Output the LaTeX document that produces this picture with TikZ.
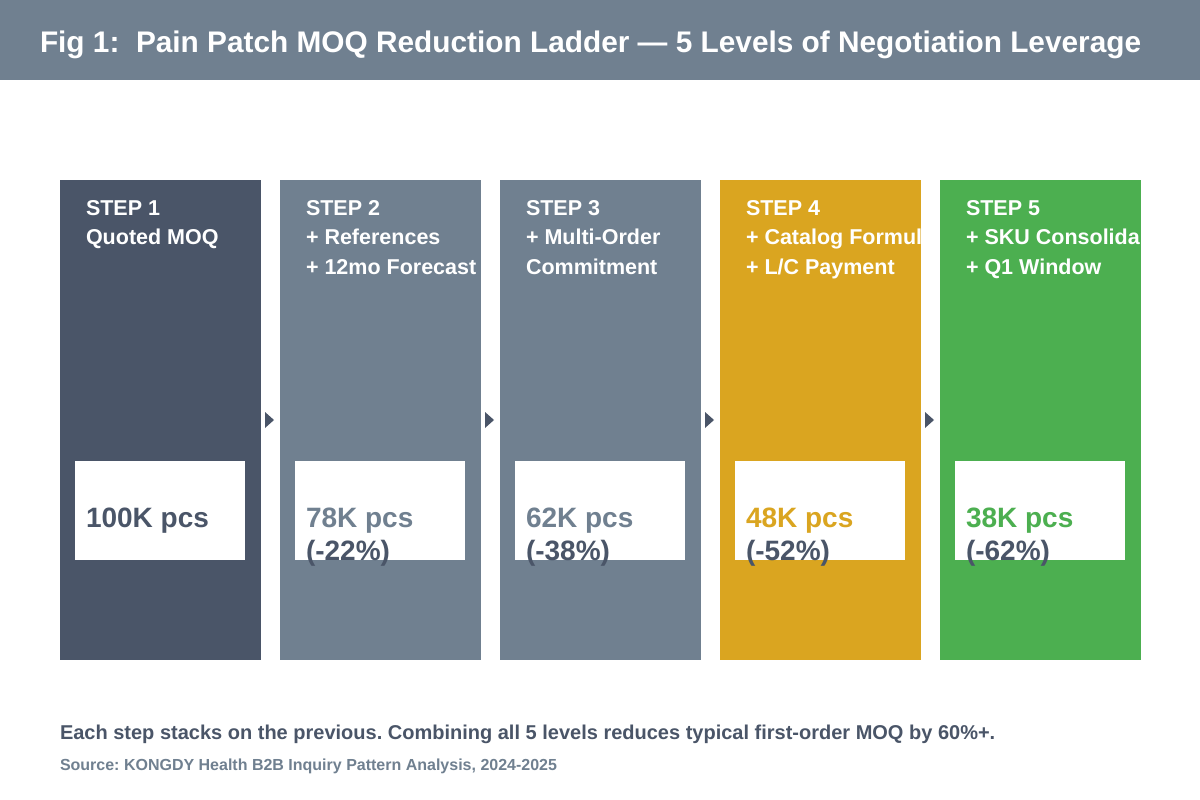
\documentclass[tikz,border=0pt]{standalone}
\usepackage{fontspec}
\setmainfont{Liberation Sans}
\usetikzlibrary{calc}
\frenchspacing
\definecolor{slate}{HTML}{708090}
\definecolor{ink}{HTML}{4A5568}
\definecolor{gold}{HTML}{DAA520}
\definecolor{leaf}{HTML}{4CAF50}
\tikzset{
  every node/.style = {inner sep=0pt, outer sep=0pt}
}
\tikzset{
  column/.style = {minimum width=201pt, minimum height=480pt, anchor=north west},
  valbox/.style = {fill=white, minimum width=170pt, minimum height=99pt, anchor=north west},
  steptext/.style = {anchor=base west, text=white, font=\fontsize{21.5}{25}\bfseries},
  valtext/.style = {anchor=base west, font=\fontsize{28}{33}\bfseries}
}

\begin{document}
\begin{tikzpicture}[x=1pt,y=-1pt]
\useasboundingbox (0,0) rectangle (1200,800);
\fill[white] (0,0) rectangle (1200,800);

% Header band
\fill[slate] (0,0) rectangle (1200,80);
\node[anchor=base west, text=white, font=\fontsize{29.8}{36}\bfseries] (title) at (40,53)
  {Fig 1:\ \ Pain Patch MOQ Reduction Ladder — 5 Levels of Negotiation Leverage};

% The five steps
\node[column, fill=ink]   (c1) at (60,180) {};
\node[column, fill=slate] (c2) at (280,180) {};
\node[column, fill=slate] (c3) at (500,180) {};
\node[column, fill=gold]  (c4) at (720,180) {};
\node[column, fill=leaf]  (c5) at (940,180) {};

% Step labels (cut off at the column edge)
\begin{scope}
\clip (c1.north west) rectangle (c1.south east);
\node[steptext] (s1a) at ($(c1.north west)+(26,35)$) {STEP 1};
\node[steptext] (s1b) at ($(c1.north west)+(26,64)$) {Quoted MOQ};
\end{scope}
\begin{scope}
\clip (c2.north west) rectangle (c2.south east);
\node[steptext] (s2a) at ($(c2.north west)+(26,35)$) {STEP 2};
\node[steptext] (s2b) at ($(c2.north west)+(26,64)$) {+ References};
\node[steptext] (s2c) at ($(c2.north west)+(26,94)$) {+ 12mo Forecast};
\end{scope}
\begin{scope}
\clip (c3.north west) rectangle (c3.south east);
\node[steptext] (s3a) at ($(c3.north west)+(26,35)$) {STEP 3};
\node[steptext] (s3b) at ($(c3.north west)+(26,64)$) {+ Multi-Order};
\node[steptext] (s3c) at ($(c3.north west)+(26,94)$) {Commitment};
\end{scope}
\begin{scope}
\clip (c4.north west) rectangle (c4.south east);
\node[steptext] (s4a) at ($(c4.north west)+(26,35)$) {STEP 4};
\node[steptext] (s4b) at ($(c4.north west)+(26,64)$) {+ Catalog Formul};
\node[steptext] (s4c) at ($(c4.north west)+(26,94)$) {+ L/C Payment};
\end{scope}
\begin{scope}
\clip (c5.north west) rectangle (c5.south east);
\node[steptext] (s5a) at ($(c5.north west)+(26,35)$) {STEP 5};
\node[steptext] (s5b) at ($(c5.north west)+(26,64)$) {+ SKU Consolida};
\node[steptext] (s5c) at ($(c5.north west)+(26,94)$) {+ Q1 Window};
\end{scope}

% Value boxes
\node[valbox] (b1) at ($(c1.north west)+(15,281)$) {};
\node[valbox] (b2) at ($(c2.north west)+(15,281)$) {};
\node[valbox] (b3) at ($(c3.north west)+(15,281)$) {};
\node[valbox] (b4) at ($(c4.north west)+(15,281)$) {};
\node[valbox] (b5) at ($(c5.north west)+(15,281)$) {};

\node[valtext, text=ink]   (v1) at ($(b1.north west)+(11,66)$) {100K pcs};
\node[valtext, text=slate] (v2) at ($(b2.north west)+(11,66)$) {78K pcs};
\node[valtext, text=ink]   (p2) at ($(b2.north west)+(11,99)$) {(-22\%)};
\node[valtext, text=slate] (v3) at ($(b3.north west)+(11,66)$) {62K pcs};
\node[valtext, text=ink]   (p3) at ($(b3.north west)+(11,99)$) {(-38\%)};
\node[valtext, text=gold]  (v4) at ($(b4.north west)+(11,66)$) {48K pcs};
\node[valtext, text=ink]   (p4) at ($(b4.north west)+(11,99)$) {(-52\%)};
\node[valtext, text=leaf]  (v5) at ($(b5.north west)+(11,66)$) {38K pcs};
\node[valtext, text=ink]   (p5) at ($(b5.north west)+(11,99)$) {(-62\%)};

% Small arrows between the steps
\fill[ink] ($(c1.east)+(4,-8)$) -- ($(c1.east)+(13,0)$) -- ($(c1.east)+(4,8)$) -- cycle;
\fill[ink] ($(c2.east)+(4,-8)$) -- ($(c2.east)+(13,0)$) -- ($(c2.east)+(4,8)$) -- cycle;
\fill[ink] ($(c3.east)+(4,-8)$) -- ($(c3.east)+(13,0)$) -- ($(c3.east)+(4,8)$) -- cycle;
\fill[ink] ($(c4.east)+(4,-8)$) -- ($(c4.east)+(13,0)$) -- ($(c4.east)+(4,8)$) -- cycle;

% Footer
\node[anchor=base west, text=ink, font=\fontsize{20}{24}\bfseries] (note) at (60,739)
  {Each step stacks on the previous. Combining all 5 levels reduces typical first-order MOQ by 60\%+.};
\node[anchor=base west, text=slate, font=\fontsize{16}{19}\bfseries] (source) at (60,770)
  {Source: KONGDY Health B2B Inquiry Pattern Analysis, 2024-2025};
\end{tikzpicture}
\end{document}
